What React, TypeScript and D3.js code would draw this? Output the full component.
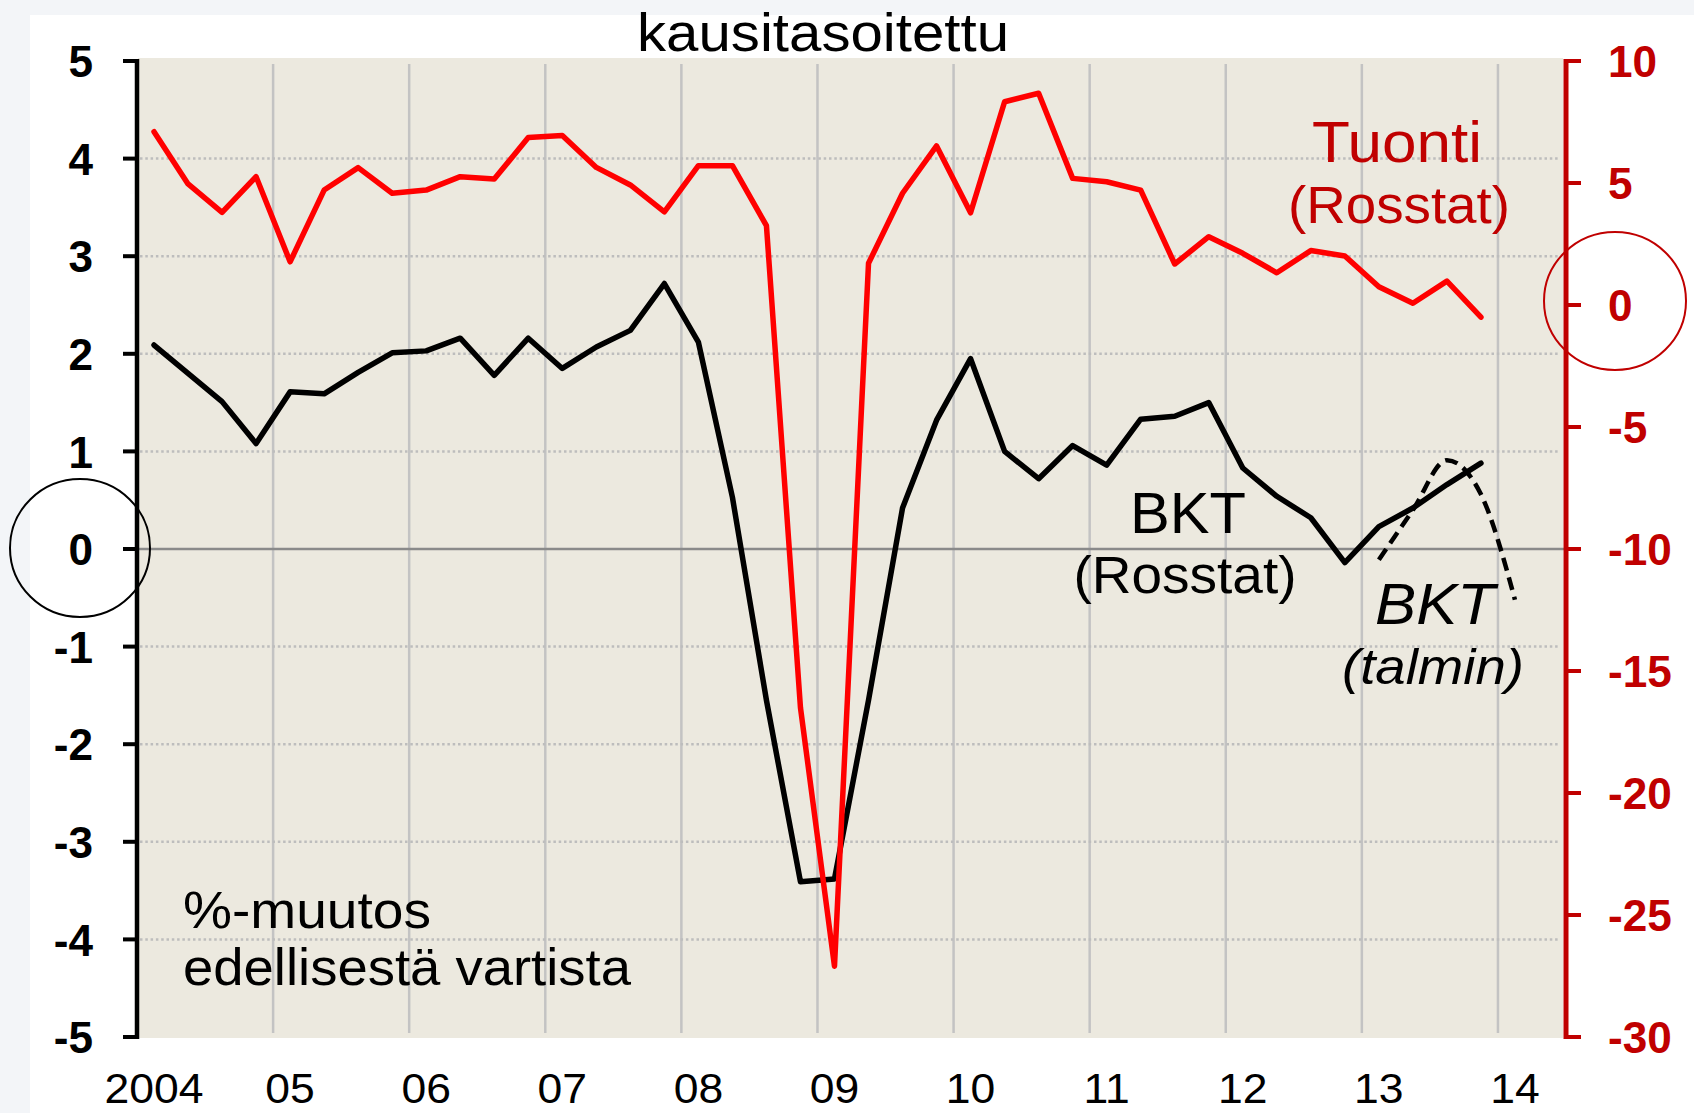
import React, { useEffect, useRef } from 'react'
import * as d3 from 'd3'

// x-axis: quarters 2004Q1 .. 2014Q2, labels at each Q1
const yearLabels = ['2004', '05', '06', '07', '08', '09', '10', '11', '12', '13', '14']
const yearsFull = [2004, 2005, 2006, 2007, 2008, 2009, 2010, 2011, 2012, 2013, 2014]
const quarters: string[] = []
yearsFull.forEach((y) => {
    ;[1, 2, 3, 4].forEach((q) => {
        if (y === 2014 && q > 2) return
        quarters.push(`${y}Q${q}`)
    })
})

// BKT (Rosstat), %-change q/q, left axis, 2004Q1..2013Q4
const bkt = [
    2.09, 1.8, 1.51, 1.08, 1.61, 1.59, 1.81, 2.01, 2.03, 2.16, 1.78, 2.16, 1.85, 2.07, 2.24, 2.72, 2.12, 0.53, -1.55,
    -3.41, -3.38, -1.55, 0.42, 1.32, 1.95, 1.0, 0.72, 1.06, 0.86, 1.33, 1.36, 1.5, 0.83, 0.54, 0.32, -0.14, 0.23, 0.42,
    0.66, 0.88,
]

// Tuonti (Rosstat), right axis, 2004Q1..2013Q4
const tuonti = [
    7.1, 4.96, 3.8, 5.26, 1.77, 4.71, 5.63, 4.58, 4.71, 5.26, 5.16, 6.86, 6.95, 5.64, 4.92, 3.82, 5.71, 5.71, 3.25,
    -16.5, -27.1, 1.71, 4.58, 6.52, 3.78, 8.33, 8.68, 5.19, 5.05, 4.71, 1.68, 2.8, 2.12, 1.32, 2.23, 2.01, 0.75, 0.07,
    0.98, -0.5,
]

// BKT (talmin), dashed, left axis
const talminQuarters = ['2013Q1', '2013Q2', '2013Q3', '2013Q4', '2014Q1']
const talmin = [-0.11, 0.4, 0.91, 0.56, -0.52]

const leftTicks = [5, 4, 3, 2, 1, 0, -1, -2, -3, -4, -5]
const rightTicks = [10, 5, 0, -5, -10, -15, -20, -25, -30]

const W = 1694
const H = 1113
const FONT = "'Liberation Sans', Arial, sans-serif"
const DARK_RED = '#C00000'

export default function App() {
    const svgRef = useRef<SVGSVGElement | null>(null)

    useEffect(() => {
        document.body.style.margin = '0'
        const svg = d3.select(svgRef.current)
        svg.selectAll('*').remove()

        const plot = { left: 137, right: 1566, top: 61, bottom: 1037 }

        const x = d3.scaleBand<string>().domain(quarters).range([plot.left, plot.right])
        const cx = (q: string) => x(q)! + x.bandwidth() / 2
        const yL = d3.scaleLinear().domain([-5, 5]).range([plot.bottom, plot.top])
        const yR = d3.scaleLinear().domain([-30, 10]).range([plot.bottom, plot.top])

        // page background: faint pattern strip + white card
        svg.append('rect').attr('width', W).attr('height', H).attr('fill', '#F3F5F8')
        svg.append('rect').attr('x', 30).attr('y', 15).attr('width', W - 30).attr('height', H - 15).attr('fill', '#fff')

        // plot area
        svg.append('rect')
            .attr('x', plot.left + 1)
            .attr('y', 58)
            .attr('width', 1562 - plot.left)
            .attr('height', 1038 - 58)
            .attr('fill', '#ECE9DF')

        // vertical year gridlines
        const yearStarts = quarters.filter((q, i) => i > 0 && q.endsWith('Q1'))
        svg.append('g')
            .selectAll('line')
            .data(yearStarts)
            .join('line')
            .attr('x1', (q) => x(q)!)
            .attr('x2', (q) => x(q)!)
            .attr('y1', 64)
            .attr('y2', 1033)
            .attr('stroke', '#C3C3C3')
            .attr('stroke-width', 2.5)

        // dotted horizontal gridlines
        svg.append('g')
            .selectAll('line')
            .data(leftTicks.filter((t) => t !== 0 && Math.abs(t) !== 5))
            .join('line')
            .attr('x1', plot.left + 3)
            .attr('x2', 1560)
            .attr('y1', (t) => yL(t))
            .attr('y2', (t) => yL(t))
            .attr('stroke', '#BDBDBD')
            .attr('stroke-width', 2.5)
            .attr('stroke-dasharray', '2.5 2.8')

        // zero line
        svg.append('line')
            .attr('x1', plot.left)
            .attr('x2', plot.right)
            .attr('y1', yL(0))
            .attr('y2', yL(0))
            .attr('stroke', '#8A8A8A')
            .attr('stroke-width', 2.5)

        // left axis
        svg.append('line')
            .attr('x1', plot.left)
            .attr('x2', plot.left)
            .attr('y1', plot.top - 2)
            .attr('y2', plot.bottom + 2)
            .attr('stroke', '#000')
            .attr('stroke-width', 4.5)
        const lt = svg.append('g').selectAll('g').data(leftTicks).join('g')
        lt.append('line')
            .attr('x1', plot.left - 14)
            .attr('x2', plot.left)
            .attr('y1', (t) => yL(t))
            .attr('y2', (t) => yL(t))
            .attr('stroke', '#000')
            .attr('stroke-width', 4)
        lt.append('text')
            .attr('transform', (t) => `translate(93,${yL(t)}) scale(0.98,1)`)
            .attr('dy', '0.36em')
            .attr('text-anchor', 'end')
            .attr('font-family', FONT)
            .attr('font-weight', 'bold')
            .attr('font-size', 45)
            .attr('fill', '#000')
            .text((t) => `${t}`)

        // right axis
        svg.append('line')
            .attr('x1', plot.right)
            .attr('x2', plot.right)
            .attr('y1', plot.top - 2)
            .attr('y2', plot.bottom + 2)
            .attr('stroke', DARK_RED)
            .attr('stroke-width', 5)
        const rt = svg.append('g').selectAll('g').data(rightTicks).join('g')
        rt.append('line')
            .attr('x1', plot.right)
            .attr('x2', plot.right + 15)
            .attr('y1', (t) => yR(t))
            .attr('y2', (t) => yR(t))
            .attr('stroke', DARK_RED)
            .attr('stroke-width', 4)
        rt.append('text')
            .attr('transform', (t) => `translate(1608,${yR(t)}) scale(0.98,1)`)
            .attr('dy', '0.36em')
            .attr('text-anchor', 'start')
            .attr('font-family', FONT)
            .attr('font-weight', 'bold')
            .attr('font-size', 45)
            .attr('fill', DARK_RED)
            .text((t) => `${t}`)

        // x-axis labels at Q1
        svg.append('g')
            .selectAll('text')
            .data(yearLabels)
            .join('text')
            .attr('transform', (_, i) => `translate(${cx(quarters[i * 4])},1103) scale(1.06,1)`)
            .attr('text-anchor', 'middle')
            .attr('font-family', FONT)
            .attr('font-size', 42)
            .attr('fill', '#000')
            .text((d) => d)

        // BKT line
        const lineL = d3
            .line<number>()
            .x((_, i) => cx(quarters[i]))
            .y((d) => yL(d))
        svg.append('path')
            .attr('d', lineL(bkt))
            .attr('fill', 'none')
            .attr('stroke', '#000')
            .attr('stroke-width', 5.5)
            .attr('stroke-linejoin', 'round')
            .attr('stroke-linecap', 'round')

        // BKT talmin dashed
        const lineT = d3
            .line<number>()
            .x((_, i) => cx(talminQuarters[i]))
            .y((d) => yL(d))
            .curve(d3.curveMonotoneX)
        svg.append('path')
            .attr('d', lineT(talmin))
            .attr('fill', 'none')
            .attr('stroke', '#000')
            .attr('stroke-width', 4.5)
            .attr('stroke-dasharray', '13 7')

        // Tuonti line
        const lineR = d3
            .line<number>()
            .x((_, i) => cx(quarters[i]))
            .y((d) => yR(d))
        svg.append('path')
            .attr('d', lineR(tuonti))
            .attr('fill', 'none')
            .attr('stroke', '#FF0000')
            .attr('stroke-width', 5.5)
            .attr('stroke-linejoin', 'round')
            .attr('stroke-linecap', 'round')

        // circles around the zero labels
        svg.append('ellipse')
            .attr('cx', 80)
            .attr('cy', yL(0) - 1)
            .attr('rx', 70)
            .attr('ry', 69)
            .attr('fill', 'none')
            .attr('stroke', '#000')
            .attr('stroke-width', 2)
        svg.append('ellipse')
            .attr('cx', 1615)
            .attr('cy', yR(0) - 4)
            .attr('rx', 71)
            .attr('ry', 69)
            .attr('fill', 'none')
            .attr('stroke', DARK_RED)
            .attr('stroke-width', 2)

        // text labels
        const labels = [
            { t: 'kausitasoitettu', x: 823, y: 51, size: 54, w: 372, anchor: 'middle', fill: '#000', italic: false },
            { t: 'Tuonti', x: 1397, y: 162, size: 58, w: 170, anchor: 'middle', fill: DARK_RED, italic: false },
            { t: '(Rosstat)', x: 1399, y: 223, size: 51, w: 222, anchor: 'middle', fill: DARK_RED, italic: false },
            { t: 'BKT', x: 1188, y: 533, size: 58, w: 116, anchor: 'middle', fill: '#000', italic: false },
            { t: '(Rosstat)', x: 1185, y: 593, size: 51, w: 223, anchor: 'middle', fill: '#000', italic: false },
            { t: 'BKT', x: 1435, y: 624, size: 58, w: 120, anchor: 'middle', fill: '#000', italic: true },
            { t: '(talmin)', x: 1433, y: 684, size: 50, w: 182, anchor: 'middle', fill: '#000', italic: true },
            { t: '%-muutos', x: 183, y: 928, size: 52, w: 248, anchor: 'start', fill: '#000', italic: false },
            { t: 'edellisestä vartista', x: 183, y: 985, size: 52, w: 448, anchor: 'start', fill: '#000', italic: false },
        ]
        svg.append('g')
            .selectAll('text')
            .data(labels)
            .join('text')
            .attr('x', (d) => d.x)
            .attr('y', (d) => d.y)
            .attr('text-anchor', (d) => d.anchor)
            .attr('font-family', FONT)
            .attr('font-size', (d) => d.size)
            .attr('font-style', (d) => (d.italic ? 'italic' : 'normal'))
            .attr('fill', (d) => d.fill)
            .attr('textLength', (d) => d.w)
            .attr('lengthAdjust', 'spacingAndGlyphs')
            .text((d) => d.t)
    }, [])

    return <svg ref={svgRef} width={W} height={H} style={{ display: 'block' }} />
}
